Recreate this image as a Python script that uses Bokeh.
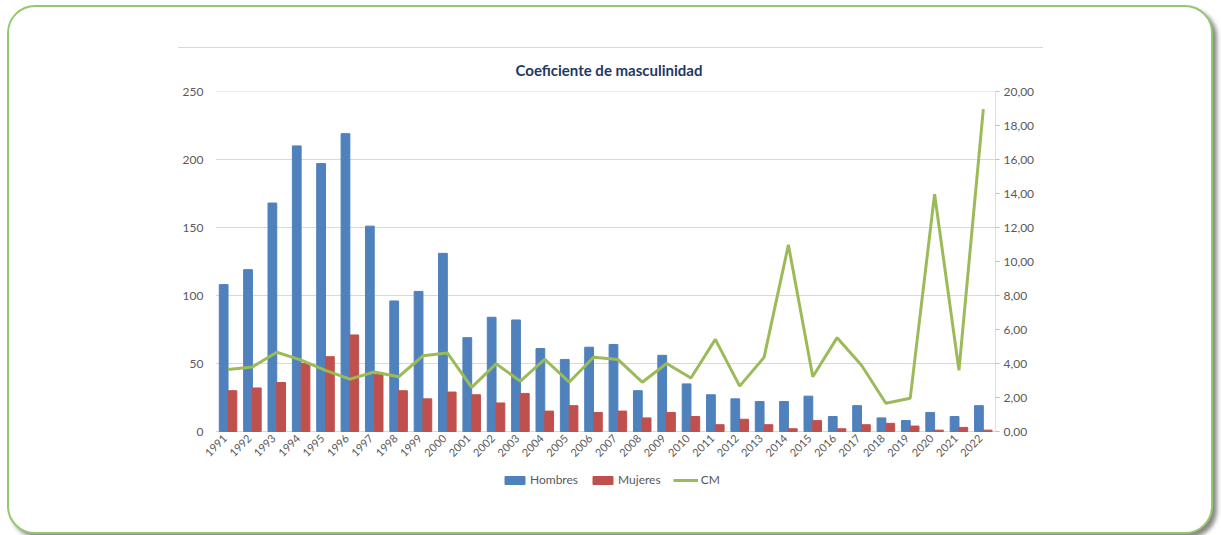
import math
from bokeh.plotting import figure
from bokeh.models import (FactorRange, Range1d, LinearAxis, Legend, LegendItem,
                          CustomJSTickFormatter, FixedTicker)
from bokeh.core.properties import value
from bokeh.transform import dodge
from bokeh.embed import file_html
from bokeh.resources import INLINE

years = ["1991", "1992", "1993", "1994", "1995", "1996", "1997", "1998", "1999", "2000",
         "2001", "2002", "2003", "2004", "2005", "2006", "2007", "2008", "2009", "2010",
         "2011", "2012", "2013", "2014", "2015", "2016", "2017", "2018", "2019", "2020",
         "2021", "2022"]
hombres = [108, 119, 168, 210, 197, 219, 151, 96, 103, 131, 69, 84, 82, 61, 53, 62,
           64, 30, 56, 35, 27, 24, 22, 22, 26, 11, 19, 10, 8, 14, 11, 19]
mujeres = [30, 32, 36, 50, 55, 71, 42, 30, 24, 29, 27, 21, 28, 15, 19, 14,
           15, 10, 14, 11, 5, 9, 5, 2, 8, 2, 5, 6, 4, 1, 3, 1]
cm = [3.65, 3.8, 4.66, 4.2, 3.6, 3.08, 3.5, 3.22, 4.45, 4.62, 2.6, 3.98, 2.96, 4.25, 2.9, 4.37,
      4.24, 2.9, 4.0, 3.15, 5.42, 2.67, 4.36, 10.98, 3.22, 5.52, 3.9, 1.66, 1.96, 13.96, 3.6, 18.96]
left_ticks = [0, 50, 100, 150, 200, 250]
right_ticks = [0, 2, 4, 6, 8, 10, 12, 14, 16, 18, 20]

BLUE = "#4f81bd"
RED = "#c0504d"
GREEN = "#9bbb59"
GRAY_TXT = "#595959"
GRID = "#d9d9d9"
FONT = "Lato"

data = dict(year=years, hombres=hombres, mujeres=mujeres, cm=cm)

# the frame also holds the year labels and the legend under the zero line;
# an empty spacer slot on the left keeps the first rotated year label visible
SPACER = " "
LEFT_MAX = left_ticks[-1]
RIGHT_MAX = right_ticks[-1]
BELOW = 64.0 / 340.0   # share of the 0..max span that lies below zero
X_START = 1                 # synthetic coordinate where "1991" starts
X_END = len(years) + 1      # synthetic coordinate where "2022" ends

p = figure(x_range=FactorRange(factors=[SPACER] + years, range_padding=0),
           y_range=Range1d(-LEFT_MAX * BELOW, LEFT_MAX),
           width=1206, height=529,
           min_border_left=182, min_border_right=220, min_border_top=84, min_border_bottom=41,
           output_backend="svg", toolbar_location=None,
           title="Coeficiente de masculinidad")
p.extra_y_ranges = {"cm": Range1d(-RIGHT_MAX * BELOW, RIGHT_MAX)}

# horizontal gridlines (only across the plotted years)
p.segment(x0=X_START, x1=X_END, y0=left_ticks, y1=left_ticks,
          line_color=GRID, line_width=1)

r_h = p.vbar(x=dodge("year", -0.18, range=p.x_range), top="hombres", bottom=0, width=0.36,
             source=data, fill_color=BLUE, line_color=BLUE)
r_m = p.vbar(x=dodge("year", 0.18, range=p.x_range), top="mujeres", bottom=0, width=0.36,
             source=data, fill_color=RED, line_color=RED)
r_c = p.line(x="year", y="cm", source=data, y_range_name="cm",
             line_color=GREEN, line_width=3)

# year labels under the zero line
p.text(x="year", y=0, text="year", source=data, angle=math.pi / 4,
       text_align="right", text_baseline="middle", x_offset=-3, y_offset=5,
       text_font=value(FONT), text_font_size="11px", text_color=GRAY_TXT)

# right axis line (from 0 to max only)
p.segment(x0=X_END, y0=0, x1=X_END, y1=RIGHT_MAX, y_range_name="cm",
          line_color="#bfbfbf", line_width=1)

p.outline_line_color = None
p.background_fill_color = "white"
p.border_fill_alpha = 0
p.xgrid.grid_line_color = None
p.ygrid.grid_line_color = None
p.xaxis.visible = False

# title
p.title.align = "left"
p.title.offset = 324
p.title.text_font = FONT
p.title.text_font_size = "15px"
p.title.text_font_style = "bold"
p.title.text_color = "#1f3864"
p.title.standoff = 26

# left axis
ya = p.yaxis[0]
ya.ticker = FixedTicker(ticks=left_ticks)
ya.axis_line_color = None
ya.major_tick_line_color = None
ya.major_tick_out = 0
ya.major_tick_in = 0
ya.minor_tick_line_color = None
ya.major_label_text_font = FONT
ya.major_label_text_font_size = "12px"
ya.major_label_text_color = GRAY_TXT
ya.major_label_standoff = -12

# right axis
ra = LinearAxis(y_range_name="cm",
                ticker=FixedTicker(ticks=right_ticks),
                formatter=CustomJSTickFormatter(code="return tick.toFixed(2).replace('.', ',');"))
ra.axis_line_color = None
ra.major_tick_line_color = "#bfbfbf"
ra.major_tick_in = 0
ra.major_tick_out = 4
ra.minor_tick_line_color = None
ra.major_label_text_font = FONT
ra.major_label_text_font_size = "12px"
ra.major_label_text_color = GRAY_TXT
ra.major_label_standoff = 4
p.add_layout(ra, "right")

legend = Legend(items=[LegendItem(label="Hombres", renderers=[r_h]),
                       LegendItem(label="Mujeres", renderers=[r_m]),
                       LegendItem(label="CM", renderers=[r_c])],
                orientation="horizontal", location=(311, 8),
                border_line_color=None, background_fill_alpha=0,
                glyph_width=25, glyph_height=10, label_standoff=3, spacing=12,
                padding=2,
                label_text_font=FONT, label_text_font_size="12px",
                label_text_color=GRAY_TXT)
p.add_layout(legend, "center")

p.styles = {"margin": "5px 0px 0px 7px",
            "border": "2px solid #92c96e", "border-radius": "28px",
            "box-shadow": "4px 4px 4px #888",
            "background": "linear-gradient(#d9d9d9, #d9d9d9) 169px 40px / 865px 1px no-repeat, white"}

open("out.html", "w").write(file_html(p, INLINE))
